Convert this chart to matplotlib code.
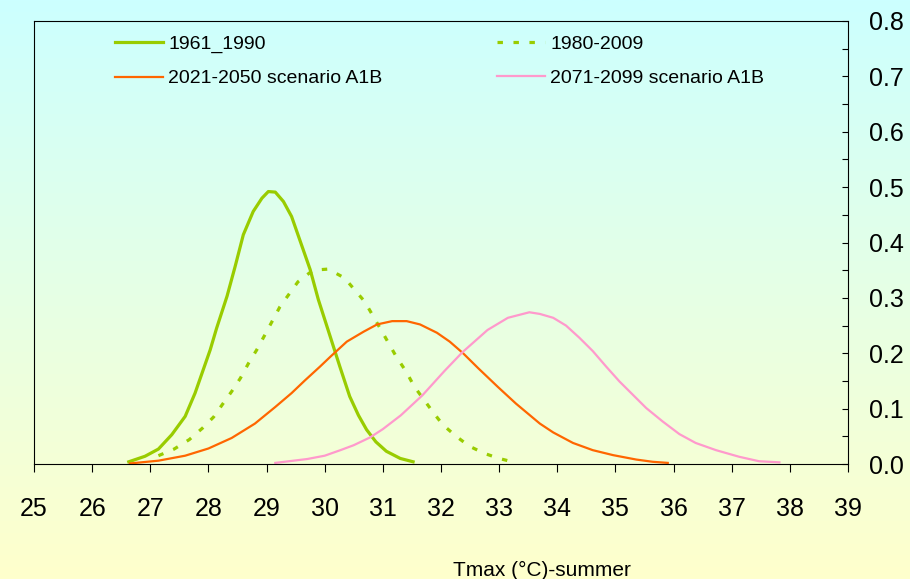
import numpy as np
import matplotlib
matplotlib.use("Agg")
from matplotlib import pyplot as plt
from matplotlib.colors import LinearSegmentedColormap
from matplotlib.ticker import MultipleLocator

# values
x_6190 = [26.63, 26.91, 27.14, 27.37, 27.60, 27.77, 27.91, 28.03, 28.14, 28.32,
          28.46, 28.60, 28.77, 28.92, 29.03, 29.15, 29.29, 29.43, 29.58, 29.75,
          29.89, 30.04, 30.26, 30.43, 30.58, 30.72, 30.88, 31.06, 31.30, 31.52]
y_6190 = [0.004, 0.014, 0.027, 0.053, 0.086, 0.128, 0.170, 0.206, 0.245, 0.303,
          0.357, 0.414, 0.456, 0.480, 0.492, 0.491, 0.474, 0.447, 0.402, 0.351,
          0.297, 0.248, 0.176, 0.122, 0.088, 0.062, 0.040, 0.023, 0.010, 0.004]

x_8009 = [27.14, 27.41, 27.67, 27.90, 28.09, 28.25, 28.40, 28.55, 28.69, 28.83,
          28.97, 29.23, 29.54, 29.80, 30.06, 30.34, 30.69, 30.97, 31.23, 31.40,
          31.54, 31.86, 32.03, 32.26, 32.49, 32.75, 33.00, 33.30]
y_8009 = [0.015, 0.027, 0.044, 0.065, 0.085, 0.109, 0.131, 0.155, 0.182, 0.206,
          0.233, 0.284, 0.329, 0.350, 0.352, 0.336, 0.293, 0.242, 0.194, 0.167,
          0.140, 0.094, 0.071, 0.050, 0.032, 0.019, 0.010, 0.002]

x_2150 = [26.65, 27.14, 27.60, 28.00, 28.40, 28.80, 29.15, 29.43, 29.66, 29.92,
          30.10, 30.38, 30.67, 30.90, 31.16, 31.41, 31.64, 31.93, 32.15, 32.38,
          32.64, 32.98, 33.29, 33.70, 33.93, 34.27, 34.61, 34.96, 35.36, 35.64,
          35.90]
y_2150 = [0.001, 0.006, 0.015, 0.028, 0.047, 0.073, 0.103, 0.128, 0.151, 0.176,
          0.194, 0.221, 0.239, 0.252, 0.258, 0.258, 0.252, 0.237, 0.221, 0.200,
          0.173, 0.139, 0.109, 0.073, 0.057, 0.038, 0.025, 0.016, 0.008, 0.004,
          0.002]

x_7199 = [29.15, 29.70, 30.00, 30.27, 30.50, 30.78, 31.00, 31.31, 31.68, 32.06,
          32.37, 32.80, 33.15, 33.52, 33.70, 33.93, 34.15, 34.38, 34.61, 34.84,
          35.07, 35.30, 35.53, 35.81, 36.10, 36.38, 36.73, 37.13, 37.47, 37.82]
y_7199 = [0.002, 0.009, 0.015, 0.025, 0.034, 0.048, 0.063, 0.088, 0.124, 0.168,
          0.202, 0.242, 0.264, 0.274, 0.271, 0.264, 0.250, 0.228, 0.204, 0.176,
          0.149, 0.125, 0.101, 0.077, 0.054, 0.038, 0.025, 0.013, 0.005, 0.003]

xticks = list(range(25, 40))
yticks = [0.0, 0.1, 0.2, 0.3, 0.4, 0.5, 0.6, 0.7, 0.8]

plt.rcParams['font.family'] = ['Liberation Sans', 'DejaVu Sans']

fig = plt.figure(figsize=(9.1, 5.79), dpi=100)

# background gradient cyan -> light yellow
bg = fig.add_axes([0, 0, 1, 1], zorder=-10)
cmap = LinearSegmentedColormap.from_list("bg", ["#CCFFFF", "#FFFFCC"])
bg.imshow(np.linspace(0, 1, 256).reshape(-1, 1), aspect='auto', cmap=cmap,
          extent=[0, 1, 0, 1])
bg.set_axis_off()

ax = fig.add_axes([34 / 910, 1 - 464 / 579, 814 / 910, 443 / 579])
ax.patch.set_alpha(0)

l1, = ax.plot(x_6190, y_6190, color='#99CC00', lw=2.3, label='1961_1990',
              solid_joinstyle='round')
l2, = ax.plot(x_8009, y_8009, color='#99CC00', lw=2.3, ls=(0, (1.7, 3.3)),
              label='1980-2009')
l3, = ax.plot(x_2150, y_2150, color='#FF6600', lw=1.6,
              label='2021-2050 scenario A1B', solid_joinstyle='round')
l4, = ax.plot(x_7199, y_7199, color='#FF99CC', lw=1.6,
              label='2071-2099 scenario A1B', solid_joinstyle='round')

ax.set_xlim(25, 39)
ax.set_ylim(0, 0.8)
ax.set_xticks(xticks)
ax.set_xticklabels([str(t) for t in xticks], fontsize=18)
ax.yaxis.tick_right()
ax.set_yticks(yticks)
ax.set_yticklabels(['%.1f' % t for t in yticks], fontsize=18)
ax.yaxis.set_minor_locator(MultipleLocator(0.05))
ax.tick_params(axis='x', direction='out', length=6, width=0.8, pad=18)
ax.tick_params(axis='y', which='both', direction='in', length=4.5, width=0.8,
               pad=15, right=True, left=False)
for s in ax.spines.values():
    s.set_linewidth(0.8)
    s.set_color('black')

ax.legend(handles=[l1, l3, l2, l4], ncol=2, frameon=False, fontsize=14,
          loc='upper left', bbox_to_anchor=(115 / 910, 1 - 35.5 / 579),
          bbox_transform=fig.transFigure, borderpad=0, borderaxespad=0,
          handlelength=2.45, handletextpad=0.28, columnspacing=5.9,
          labelspacing=0.85)

fig.text(542 / 910, 3 / 579, 'Tmax (°C)-summer', fontsize=15,
         ha='center', va='baseline')

fig.savefig('out.png', dpi=100)
